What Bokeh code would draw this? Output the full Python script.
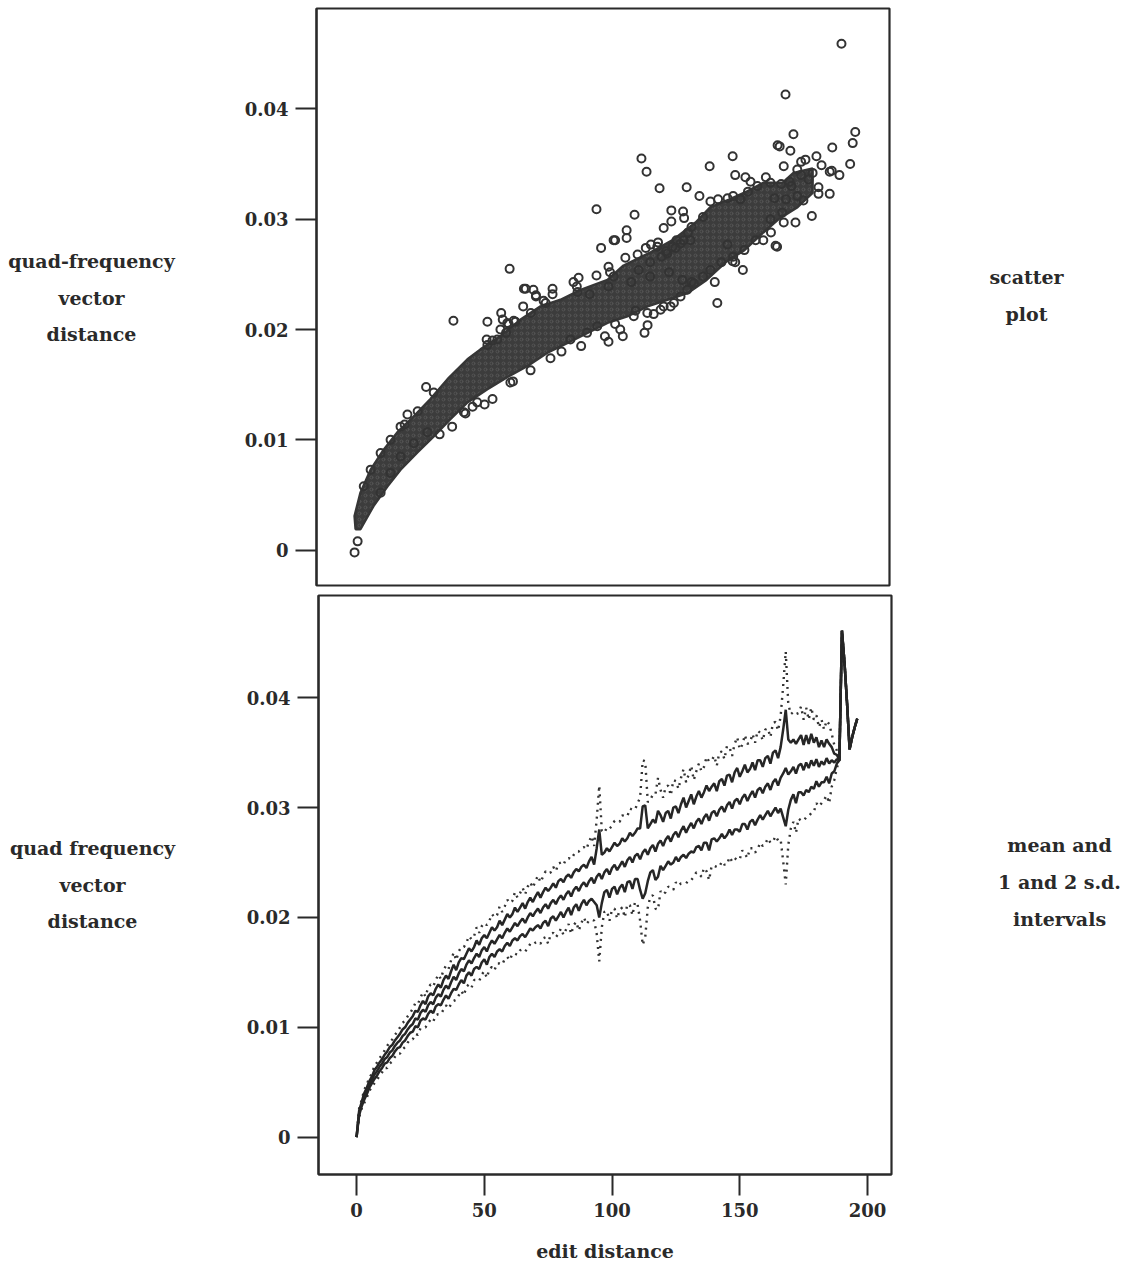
from bokeh.plotting import figure
from bokeh.layouts import column, row
from bokeh.models import FixedTicker, Range1d, CustomJSTickFormatter
from bokeh.core.properties import value
from bokeh.embed import file_html
from bokeh.resources import INLINE

# ---------------- data ----------------
# top panel: dense core of the scatter (envelope of overlapping points)
core_upper_x = [0, 2.3, 6.3, 11.4, 16.8, 23.1, 29.7, 36.4, 44.2, 49.3, 57.1, 65, 72.8, 80.6,
                88.5, 99, 105.3, 115.9, 124.5, 133.5, 139.3, 146.8, 152.6, 160, 167.5, 171.8, 179.3]
core_upper_y = [0.0031, 0.0052, 0.0073, 0.0091, 0.0107, 0.0121, 0.0137, 0.0155, 0.0173, 0.0182,
                0.0194, 0.0209, 0.0221, 0.0227, 0.0236, 0.0245, 0.0258, 0.0270, 0.0281, 0.0297,
                0.0311, 0.0318, 0.0324, 0.0333, 0.0333, 0.0342, 0.0346]
core_lower_x = [0.4, 2.3, 7.4, 12.9, 18, 24.7, 30.9, 37.6, 44.2, 52, 59.9, 67.7, 75.5, 83.4, 91.2,
                99, 106.8, 114.7, 122.5, 130.3, 137.8, 145.2, 152.6, 160, 165.9, 173.4, 179.3]
core_lower_y = [0.0019, 0.0019, 0.0040, 0.0058, 0.0073, 0.0089, 0.0103, 0.0119, 0.0134, 0.0146,
                0.0157, 0.0167, 0.0179, 0.0188, 0.0197, 0.0206, 0.0212, 0.0221, 0.0227, 0.0233,
                0.0245, 0.0261, 0.0272, 0.0288, 0.0300, 0.0311, 0.0324]

# top panel: individual points (edit distance, quad-frequency vector distance)
scatter_x = [190.6, 168.7, 171.8, 196.0, 195.0, 165.6, 166.4, 170.6, 187.0, 194.0,
             112.3, 114.3, 148.0, 139.0, 119.4, 130.0, 135.0, 94.7, 109.6, 124.0,
             128.6, 129.0, 121.0, 124.0, 106.5, 106.5, 102.0, 96.5, 60.7, 152.0,
             141.0, 164.8, 165.4, 179.0, 181.6, 186.0, 181.6, 189.8, 186.0, 186.8,
             180.8, 176.5, 174.8, 182.8, 168.0, 171.0, 175.7, 172.6, 168.0, 160.0,
             163.0, 148.0, 149.0, 146.0, 151.0, 149.0, 153.0, 155.0, 161.0, 167.0,
             67.0, 70.0, 71.0, 77.5, 77.5, 87.7, 87.0, 87.3, 94.7, 99.4,
             100.0, 101.4, 106.0, 110.8, 114.0, 116.0, 118.8, 122.0, 125.6, 126.0,
             128.8, 142.0, 113.5, 114.7, 105.0, 104.0, 102.0, 99.4, 98.0, 88.7,
             81.0, 76.7, 68.9, 62.0, 54.0, 50.9, 46.2, 43.4, 38.2, 33.3,
             38.7, 52.0, 57.4, 58.0, 60.3, 63.0, 59.3, 66.0, 69.0, 71.0,
             74.8, 51.7, 54.0, 52.0, 28.0, 20.7, 24.7, 19.6, 1.2, 0.0,
             66.3, 85.7, 101.4, 84.5, 57.1, 59.8, 62.3, 55.9, 31.0, 74.0,
             118.5, 122.4, 127.6, 131.5, 121.0, 125.0, 127.6, 130.2, 132.8, 117.1,
             114.6, 110.0, 42.8, 48.0, 61.0, 91.0, 95.0, 109.3, 119.8, 123.7,
             28.5, 23.2, 18.0, 14.1, 10.2, 18.0, 14.1, 10.2, 6.3, 3.6,
             173.3, 179.3, 177.7, 174.8, 170.3, 162.8, 157.7, 154.0, 164.4, 168.9,
             173.3, 167.4, 162.8, 157.0, 152.6, 148.2, 143.6, 139.3, 136.4, 139.3,
             142.3, 146.0, 148.2, 151.1, 131.9, 136.4, 130.5, 124.5, 120.2, 115.7,
             111.2, 92.0, 99.4, 108.3, 115.7, 123.1, 128.3, 131.9]
scatter_y = [0.0459, 0.0413, 0.0377, 0.0379, 0.0369, 0.0367, 0.0366, 0.0362, 0.0365, 0.0350,
             0.0355, 0.0343, 0.0357, 0.0348, 0.0328, 0.0329, 0.0321, 0.0309, 0.0304, 0.0308,
             0.0307, 0.0301, 0.0292, 0.0298, 0.0290, 0.0283, 0.0281, 0.0274, 0.0255, 0.0254,
             0.0243, 0.0276, 0.0275, 0.0303, 0.0323, 0.0323, 0.0329, 0.0340, 0.0343, 0.0344,
             0.0357, 0.0354, 0.0352, 0.0349, 0.0348, 0.0330, 0.0317, 0.0297, 0.0297, 0.0281,
             0.0288, 0.0262, 0.0261, 0.0277, 0.0318, 0.0340, 0.0338, 0.0334, 0.0338, 0.0332,
             0.0237, 0.0236, 0.0231, 0.0237, 0.0232, 0.0247, 0.0239, 0.0234, 0.0249, 0.0257,
             0.0252, 0.0248, 0.0265, 0.0268, 0.0274, 0.0277, 0.0279, 0.0271, 0.0274, 0.0281,
             0.0281, 0.0224, 0.0197, 0.0204, 0.0194, 0.0200, 0.0205, 0.0189, 0.0194, 0.0185,
             0.0180, 0.0174, 0.0163, 0.0153, 0.0137, 0.0132, 0.0130, 0.0124, 0.0112, 0.0105,
             0.0208, 0.0207, 0.0215, 0.0209, 0.0205, 0.0207, 0.0197, 0.0221, 0.0215, 0.0230,
             0.0224, 0.0191, 0.0190, 0.0186, 0.0148, 0.0123, 0.0126, 0.0114, 0.0008, -0.0002,
             0.0237, 0.0243, 0.0281, 0.0191, 0.0200, 0.0206, 0.0208, 0.0191, 0.0143, 0.0226,
             0.0275, 0.0269, 0.0278, 0.0281, 0.0221, 0.0224, 0.0230, 0.0236, 0.0242, 0.0214,
             0.0215, 0.0217, 0.0125, 0.0134, 0.0152, 0.0197, 0.0203, 0.0212, 0.0218, 0.0221,
             0.0107, 0.0097, 0.0085, 0.0070, 0.0052, 0.0112, 0.0100, 0.0088, 0.0073, 0.0058,
             0.0345, 0.0342, 0.0336, 0.0340, 0.0334, 0.0333, 0.0330, 0.0325, 0.0319, 0.0318,
             0.0321, 0.0306, 0.0300, 0.0281, 0.0272, 0.0266, 0.0261, 0.0254, 0.0248, 0.0316,
             0.0318, 0.0319, 0.0321, 0.0318, 0.0293, 0.0302, 0.0288, 0.0275, 0.0266, 0.0261,
             0.0254, 0.0232, 0.0239, 0.0243, 0.0248, 0.0252, 0.0245, 0.0243]

# bottom panel: mean and standard deviation of the distance for each edit distance 0..196
edit_distance = list(range(197))
mean_dist = [
    0.0000, 0.0022, 0.0030, 0.0037, 0.0042, 0.0048, 0.0052, 0.0057, 0.0060, 0.0064,
    0.0067, 0.0071, 0.0073, 0.0077, 0.0079, 0.0083, 0.0086, 0.0088, 0.0092, 0.0094,
    0.0098, 0.0101, 0.0103, 0.0108, 0.0107, 0.0113, 0.0116, 0.0114, 0.0120, 0.0123,
    0.0121, 0.0127, 0.0130, 0.0128, 0.0134, 0.0138, 0.0135, 0.0141, 0.0146, 0.0143,
    0.0149, 0.0153, 0.0151, 0.0157, 0.0161, 0.0158, 0.0163, 0.0167, 0.0164, 0.0170,
    0.0173, 0.0169, 0.0175, 0.0179, 0.0176, 0.0180, 0.0184, 0.0181, 0.0186, 0.0190,
    0.0187, 0.0191, 0.0195, 0.0192, 0.0196, 0.0199, 0.0195, 0.0200, 0.0204, 0.0201,
    0.0205, 0.0208, 0.0204, 0.0209, 0.0212, 0.0208, 0.0213, 0.0216, 0.0212, 0.0217,
    0.0220, 0.0216, 0.0221, 0.0224, 0.0219, 0.0225, 0.0228, 0.0224, 0.0229, 0.0232,
    0.0228, 0.0233, 0.0236, 0.0231, 0.0237, 0.0240, 0.0235, 0.0241, 0.0244, 0.0239,
    0.0245, 0.0248, 0.0243, 0.0247, 0.0251, 0.0246, 0.0252, 0.0255, 0.0250, 0.0256,
    0.0258, 0.0253, 0.0259, 0.0262, 0.0257, 0.0263, 0.0266, 0.0260, 0.0267, 0.0270,
    0.0265, 0.0271, 0.0274, 0.0269, 0.0275, 0.0278, 0.0273, 0.0279, 0.0283, 0.0277,
    0.0282, 0.0286, 0.0281, 0.0287, 0.0290, 0.0285, 0.0291, 0.0294, 0.0288, 0.0295,
    0.0297, 0.0292, 0.0298, 0.0301, 0.0296, 0.0302, 0.0305, 0.0299, 0.0306, 0.0308,
    0.0303, 0.0309, 0.0312, 0.0306, 0.0311, 0.0315, 0.0309, 0.0316, 0.0318, 0.0313,
    0.0319, 0.0322, 0.0316, 0.0323, 0.0326, 0.0320, 0.0327, 0.0331, 0.0336, 0.0330,
    0.0333, 0.0337, 0.0331, 0.0338, 0.0340, 0.0334, 0.0341, 0.0336, 0.0343, 0.0338,
    0.0344, 0.0337, 0.0342, 0.0339, 0.0345, 0.0340, 0.0343, 0.0341, 0.0344, 0.0343,
    0.0461, 0.0432, 0.0395, 0.0353, 0.0364, 0.0373, 0.0381]
sd_dist = [
    0.0000, 0.0002, 0.0002, 0.0003, 0.0003, 0.0003, 0.0003, 0.0004, 0.0004, 0.0004,
    0.0004, 0.0004, 0.0005, 0.0005, 0.0005, 0.0005, 0.0005, 0.0006, 0.0006, 0.0006,
    0.0006, 0.0006, 0.0007, 0.0007, 0.0007, 0.0007, 0.0008, 0.0007, 0.0008, 0.0008,
    0.0008, 0.0008, 0.0009, 0.0008, 0.0009, 0.0009, 0.0009, 0.0010, 0.0011, 0.0009,
    0.0010, 0.0010, 0.0011, 0.0010, 0.0011, 0.0011, 0.0010, 0.0012, 0.0011, 0.0011,
    0.0011, 0.0012, 0.0011, 0.0012, 0.0012, 0.0011, 0.0013, 0.0012, 0.0012, 0.0013,
    0.0013, 0.0012, 0.0014, 0.0013, 0.0013, 0.0014, 0.0013, 0.0014, 0.0014, 0.0013,
    0.0014, 0.0015, 0.0014, 0.0014, 0.0015, 0.0016, 0.0014, 0.0015, 0.0015, 0.0016,
    0.0015, 0.0016, 0.0016, 0.0015, 0.0017, 0.0016, 0.0016, 0.0018, 0.0017, 0.0016,
    0.0017, 0.0018, 0.0019, 0.0017, 0.0026, 0.0040, 0.0022, 0.0018, 0.0019, 0.0021,
    0.0019, 0.0020, 0.0022, 0.0020, 0.0021, 0.0023, 0.0020, 0.0022, 0.0024, 0.0021,
    0.0023, 0.0028, 0.0042, 0.0040, 0.0024, 0.0022, 0.0023, 0.0026, 0.0030, 0.0023,
    0.0022, 0.0024, 0.0023, 0.0021, 0.0025, 0.0023, 0.0022, 0.0024, 0.0026, 0.0023,
    0.0024, 0.0026, 0.0022, 0.0023, 0.0025, 0.0024, 0.0023, 0.0026, 0.0027, 0.0024,
    0.0025, 0.0023, 0.0026, 0.0025, 0.0024, 0.0027, 0.0025, 0.0024, 0.0026, 0.0028,
    0.0025, 0.0024, 0.0027, 0.0026, 0.0024, 0.0026, 0.0025, 0.0027, 0.0025, 0.0024,
    0.0026, 0.0025, 0.0024, 0.0027, 0.0026, 0.0025, 0.0028, 0.0040, 0.0053, 0.0032,
    0.0026, 0.0025, 0.0027, 0.0024, 0.0026, 0.0023, 0.0025, 0.0022, 0.0024, 0.0021,
    0.0020, 0.0018, 0.0019, 0.0016, 0.0017, 0.0018, 0.0012, 0.0008, 0.0004, 0.0000,
    0.0000, 0.0000, 0.0000, 0.0000, 0.0000, 0.0000, 0.0000]

x_ticks = [0, 50, 100, 150, 200]
x_tick_labels = ["0", "50", "100", "150", "200"]
y_ticks = [0, 0.01, 0.02, 0.03, 0.04]
y_tick_labels = ["0", "0.01", "0.02", "0.03", "0.04"]

top_left_text = ["quad-frequency", "vector", "distance"]
top_right_text = ["scatter", "plot"]
bottom_left_text = ["quad frequency", "vector", "distance"]
bottom_right_text = ["mean and", "1 and 2 s.d.", "intervals"]
x_axis_title = "edit distance"

# ---------------- styling / layout ----------------
FONT = "DejaVu Serif"
INK = "#2a2a2a"
X_RANGE = (-14.9, 209.4)
FRAME_W = 573
TOP_Y = (-0.0032, 0.0491)
BOT_Y = (-0.0034, 0.0493)
LEFT_W = 230
RIGHT_W = 234
TOP_H = 590
BOT_H = 669


def tick_formatter(tick_vals, tick_text):
    return CustomJSTickFormatter(args=dict(tv=tick_vals, tt=tick_text), code="""
        for (let i = 0; i < tv.length; i++) {
            if (Math.abs(tick - tv[i]) < 1e-9) { return tt[i]; }
        }
        return "";
    """)


def style_axis(ax, tick_vals, tick_text):
    ax.ticker = FixedTicker(ticks=tick_vals)
    ax.formatter = tick_formatter(tick_vals, tick_text)
    ax.major_tick_out = 21
    ax.major_tick_in = 0
    ax.minor_tick_out = 0
    ax.minor_tick_in = 0
    ax.major_tick_line_color = INK
    ax.major_tick_line_width = 2
    ax.axis_line_color = INK
    ax.axis_line_width = 2
    ax.major_label_text_font = FONT
    ax.major_label_text_font_style = "bold"
    ax.major_label_text_font_size = "18px"
    ax.major_label_text_color = INK
    ax.major_label_standoff = 7


def make_fig(frame_h, yr, mbl, mbr, mbt, mbb):
    p = figure(frame_width=FRAME_W, frame_height=frame_h,
               x_range=Range1d(*X_RANGE), y_range=Range1d(*yr),
               min_border_left=mbl, min_border_right=mbr,
               min_border_top=mbt, min_border_bottom=mbb,
               output_backend="svg", toolbar_location=None, tools="")
    p.grid.visible = False
    p.outline_line_color = INK
    p.outline_line_width = 2.2
    p.background_fill_color = "white"
    p.border_fill_color = "white"
    style_axis(p.yaxis[0], y_ticks, y_tick_labels)
    return p


def text_fig(w, h, lines, cx, cys):
    # a blank panel whose coordinates are its own pixels (y measured from the top)
    f = figure(frame_width=w, frame_height=h, x_range=Range1d(0, w), y_range=Range1d(h, 0),
               min_border=0, output_backend="svg", toolbar_location=None, tools="")
    f.axis.visible = False
    f.grid.visible = False
    f.outline_line_color = None
    f.background_fill_color = "white"
    f.border_fill_color = "white"
    f.text(x=[cx] * len(lines), y=cys, text=lines, text_align="center", text_baseline="middle",
           text_font=value(FONT), text_font_style="bold", text_font_size="19px", text_color=INK)
    return f


# ---------- top: scatter plot ----------
p1 = make_fig(577, TOP_Y, 316 - LEFT_W, 3, 8, 5)
p1.xaxis.visible = False
p1.patch(core_upper_x + core_lower_x[::-1], core_upper_y + core_lower_y[::-1],
         fill_color="#3c3c3c", fill_alpha=1, line_color="#363636", line_width=2.5,
         hatch_pattern="ring", hatch_color="#7a7a7a", hatch_alpha=0.3,
         hatch_scale=6, hatch_weight=1)
p1.scatter(scatter_x, scatter_y, marker="circle", size=8, fill_color=None,
           line_color="#333333", line_width=2)
t1l = text_fig(LEFT_W, TOP_H, top_left_text, 91, [252, 289, 325])
t1r = text_fig(RIGHT_W, TOP_H, top_right_text, 134, [268, 305])

# ---------- bottom: mean and s.d. intervals ----------
p2 = make_fig(579, BOT_Y, 318 - LEFT_W, 3, 5, 85)
style_axis(p2.xaxis[0], x_ticks, x_tick_labels)
p2.xaxis.axis_label = x_axis_title
p2.xaxis.axis_label_text_font = FONT
p2.xaxis.axis_label_text_font_style = "bold"
p2.xaxis.axis_label_text_font_size = "19px"
p2.xaxis.axis_label_text_color = INK
p2.xaxis.axis_label_standoff = 20

upper2 = [m + 2 * s for m, s in zip(mean_dist, sd_dist)]
lower2 = [m - 2 * s for m, s in zip(mean_dist, sd_dist)]
upper1 = [m + s for m, s in zip(mean_dist, sd_dist)]
lower1 = [m - s for m, s in zip(mean_dist, sd_dist)]

for series in (upper2, lower2):
    p2.line(edit_distance, series, line_color="#333333", line_width=2.4, line_dash="2 5")
for series in (upper1, lower1, mean_dist):
    p2.line(edit_distance, series, line_color="#262626", line_width=2.5)

t2l = text_fig(LEFT_W, BOT_H, bottom_left_text, 92, [252, 289, 325])
t2r = text_fig(RIGHT_W, BOT_H, bottom_right_text, 165, [249, 286, 323])

layout = column(row(t1l, p1, t1r, spacing=0), row(t2l, p2, t2r, spacing=0), spacing=0)
open("out.html", "w").write(file_html(layout, INLINE))
